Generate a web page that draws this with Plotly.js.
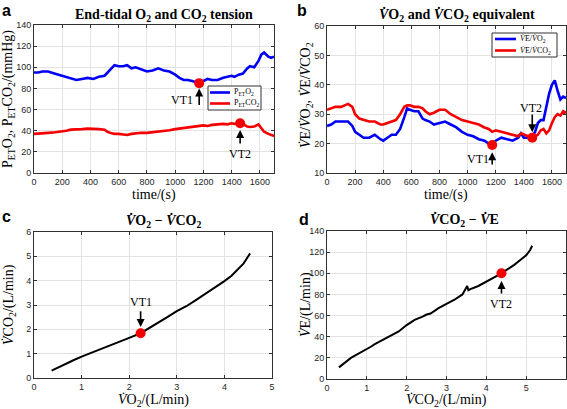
<!DOCTYPE html>
<html><head><meta charset="utf-8">
<script src="https://cdn.plot.ly/plotly-3.0.1.min.js"></script>
<style>html,body{margin:0;padding:0;background:#fff}#chart{width:567px;height:409px}</style>
</head><body><div id="chart"></div>
<script>
// Panel a: end-tidal tensions
const timeA = [0,30,60,100,150,200,230,260,300,340,380,420,460,500,520,550,570,600,630,660,690,720,760,800,840,880,920,960,1000,1030,1060,1090,1120,1150,1170,1200,1230,1260,1300,1340,1370,1400,1420,1450,1480,1510,1530,1560,1590,1610,1630,1660,1680,1700];
const petO2 = [95,95,96,96,94,92,91,90,88,89,90,89,91,92,95,100,102,101,101,102,99,100,98,96,97,99,97,96,93,90,88,88,87,86,85,87,89,88,88,90,91,92,91,93,94,99,101,100,106,112,114,110,109,110];
const petCO2 = [37,37.5,38,38,38.5,39,40,41,41,41.5,42,42,41.5,41,39,37.5,37,37,36.5,36,37,37.5,38,38,38.5,39,40,40.5,41.5,42,42.5,43,44,44.5,45,45,44.5,45.5,46,46.5,46,47,46.5,47,46.5,44,43.5,44,46,42,39,37,36,35];
const vtA = {vt1:[1170,85], vt2:[1460,47]};
const legendA = ['P<sub>ET</sub>O<sub>2</sub>','P<sub>ET</sub>CO<sub>2</sub>'];

// Panel b: ventilatory equivalents
const timeB = [0,30,60,100,150,180,200,230,260,300,340,380,400,430,460,490,520,550,570,590,620,650,680,700,730,760,800,840,880,920,960,1000,1040,1080,1120,1150,1175,1200,1240,1280,1320,1360,1380,1400,1430,1460,1480,1500,1520,1540,1560,1580,1600,1620,1640,1660,1680,1700];
const veVo2 = [26,26.5,27.5,27.5,27.5,26,24,23,22,22,23,21.5,21,22,23,23,25,29,32,31.5,31,31,28.5,28,27.5,26.5,27,27.5,26.5,25.5,24,23,22.5,21.5,21,20,19.5,21,22,21.5,21,22,23.5,22,22,22.5,24,27,28,28,33,37,40,41.5,38,35,36,35.5];
const veVco2 = [31.5,32,32.5,32.5,33.5,32.5,30,28.5,28,27.5,27.5,26.5,26.5,27,27.5,28,30,32.5,33,33,32.5,32.5,32,31,30,30.5,31.5,31.5,30,29,28,27.5,27,26.5,25.5,25,24,24.5,24,23.5,23,22.5,23.5,23,22.5,22,22.5,23,24.5,25,23.5,24.5,27,29,30,29.5,31,30.5];
const vtB = {vt1:[1175,19.5], vt2:[1460,22]};
const D='<i>V̇</i>';
const legendB = [D+'E/'+D+'O<sub>2</sub>', D+'E/'+D+'CO<sub>2</sub>'];

// Panel c: VO2 vs VCO2
const vo2C = [0.37,0.45,0.55,0.7,0.85,1.0,1.2,1.4,1.6,1.8,2.0,2.24,2.4,2.6,2.8,3.0,3.2,3.4,3.6,3.8,4.0,4.15,4.3,4.4,4.45,4.5,4.54];
const vco2C = [0.3,0.38,0.47,0.6,0.75,0.88,1.03,1.17,1.33,1.5,1.65,1.84,2.02,2.25,2.5,2.75,2.95,3.2,3.45,3.7,3.98,4.2,4.5,4.7,4.85,5.0,5.12];
const vtC = [2.24,1.84];

// Panel d: VCO2 vs VE
const vco2D = [0.3,0.4,0.5,0.6,0.7,0.8,0.9,1.0,1.1,1.2,1.4,1.6,1.8,2.0,2.2,2.4,2.5,2.6,2.8,3.0,3.2,3.4,3.48,3.52,3.55,3.6,3.8,4.0,4.2,4.38,4.5,4.7,4.9,5.0,5.1,5.15];
const veD = [11,14,17,20,22,24,26,28,30.5,33,37,41,45,51,56,59,61,62,67,71,75,80,86,88,84,85,88,92,96,100,103,108,114,117,122,126];
const vtD = [4.38,100];

const W=567,H=409;
const px = v=>v/W, py = v=>1-v/H;
const BLUE='rgb(0,0,245)', RED='rgb(245,0,0)';
const SERIF='Liberation Serif, Times New Roman, serif';
const SANS='Liberation Sans, Arial, sans-serif';

function ax(domain, range, dtick, anchor){
  return {domain, range, dtick, anchor, autorange:false, showgrid:true, gridcolor:'#e3e3e3', gridwidth:1,
    zeroline:false, showline:true, linecolor:'#303030', linewidth:1, mirror:'ticks',
    ticks:'inside', ticklen:3, tickcolor:'#303030', tickfont:{family:SANS,size:9,color:'#262626'}};
}

const traces = [
  {x:timeA,y:petO2,xaxis:'x',yaxis:'y',mode:'lines',line:{color:BLUE,width:2.6},name:legendA[0],showlegend:false},
  {x:timeA,y:petCO2,xaxis:'x',yaxis:'y',mode:'lines',line:{color:RED,width:2.6},name:legendA[1],showlegend:false},
  {x:[vtA.vt1[0],vtA.vt2[0]],y:[vtA.vt1[1],vtA.vt2[1]],xaxis:'x',yaxis:'y',mode:'markers',marker:{color:RED,size:10},showlegend:false},
  {x:timeB,y:veVo2,xaxis:'x2',yaxis:'y2',mode:'lines',line:{color:BLUE,width:2.6},name:legendB[0],showlegend:false},
  {x:timeB,y:veVco2,xaxis:'x2',yaxis:'y2',mode:'lines',line:{color:RED,width:2.6},name:legendB[1],showlegend:false},
  {x:[vtB.vt1[0],vtB.vt2[0]],y:[vtB.vt1[1],vtB.vt2[1]],xaxis:'x2',yaxis:'y2',mode:'markers',marker:{color:RED,size:10},showlegend:false},
  {x:vo2C,y:vco2C,xaxis:'x3',yaxis:'y3',mode:'lines',line:{color:'#000',width:2},showlegend:false},
  {x:[vtC[0]],y:[vtC[1]],xaxis:'x3',yaxis:'y3',mode:'markers',marker:{color:RED,size:10},showlegend:false},
  {x:vco2D,y:veD,xaxis:'x4',yaxis:'y4',mode:'lines',line:{color:'#000',width:2},showlegend:false},
  {x:[vtD[0]],y:[vtD[1]],xaxis:'x4',yaxis:'y4',mode:'markers',marker:{color:RED,size:10},showlegend:false}
];

function arrow(xr,yr,x,y,ty){
  return {xref:xr,yref:yr,x:x,y:y,axref:xr,ayref:yr,ax:x,ay:ty,text:'',showarrow:true,arrowhead:2,arrowsize:1,arrowwidth:1.6,arrowcolor:'#000'};
}
function lab(xr,yr,x,y,t){
  return {xref:xr,yref:yr,x:x,y:y,text:t,showarrow:false,font:{family:SERIF,size:12,color:'#000'}};
}
function ptxt(x,y,t,size,rot,extra){
  return Object.assign({xref:'paper',yref:'paper',x:px(x),y:py(y),text:t,showarrow:false,xanchor:'center',yanchor:'middle',
    textangle:rot||0,font:{family:SERIF,size:size,color:'#000'}},extra||{});
}
const letterFont = {family:SANS,size:16,color:'#000'};
const legFont = {family:SERIF,size:8,color:'#000'};

// compact legends (box, line samples, labels) in pixel positions
function legendBox(x0,y0,x1,y1,lineX0,lineX1,rows,labels,colors){
  const shapes=[{type:'rect',xref:'paper',yref:'paper',x0:px(x0),x1:px(x1),y0:py(y1),y1:py(y0),line:{color:'#303030',width:1},fillcolor:'#fff',layer:'above'}];
  const anns=[];
  rows.forEach((ry,i)=>{
    shapes.push({type:'line',xref:'paper',yref:'paper',x0:px(lineX0),x1:px(lineX1),y0:py(ry),y1:py(ry),line:{color:colors[i],width:2.6},layer:'above'});
    anns.push(ptxt(lineX1+2,ry,labels[i],8,0,{xanchor:'left',font:legFont}));
  });
  return {shapes,anns};
}
const legA = legendBox(208,86,261,110,210,230,[92.5,103.5],legendA,[BLUE,RED]);
const legB = legendBox(492,33,557,57,495,516,[39,50.5],legendB,[BLUE,RED]);

const annotations = [
  arrow('x','y',1170,80,63), lab('x','y',1048,69,'VT1'),
  arrow('x','y',1460,40.7,26.5), lab('x','y',1460,18,'VT2'),
  arrow('x2','y2',1175,17.1,12.4), lab('x2','y2',1074,14.8,'VT1'),
  arrow('x2','y2',1460,23.9,30.4), lab('x2','y2',1450,32.2,'VT2'),
  arrow('x3','y3',2.24,2.1,2.8), lab('x3','y3',2.24,3.12,'VT1'),
  arrow('x4','y4',4.38,92.7,79.5), lab('x4','y4',4.38,71,'VT2'),
  // titles
  ptxt(164,15,'<b>End-tidal O<sub>2</sub> and CO<sub>2</sub> tension</b>',14),
  ptxt(457,15,'<b>'+D+'O<sub>2</sub> and '+D+'CO<sub>2</sub> equivalent</b>',14),
  ptxt(163,221,'<b>'+D+'O<sub>2</sub> − '+D+'CO<sub>2</sub></b>',14),
  ptxt(464,220,'<b>'+D+'CO<sub>2</sub> − '+D+'E</b>',14),
  // axis titles
  ptxt(154,195,'time/(s)',14),
  ptxt(446,195,'time/(s)',14),
  ptxt(153,400,D+'O<sub>2</sub>/(L/min)',14),
  ptxt(446,400,D+'CO<sub>2</sub>/(L/min)',14),
  ptxt(9,99,'P<sub>ET</sub>O<sub>2</sub>, P<sub>ET</sub>CO<sub>2</sub>/(mmHg)',14,-90),
  ptxt(306,95,D+'E/'+D+'O<sub>2</sub>, '+D+'E/'+D+'CO<sub>2</sub>',14,-90),
  ptxt(9,305,D+'CO<sub>2</sub>/(L/min)',14,-90),
  ptxt(306,305,D+'E/(L/min)',14,-90),
  // panel letters
  ptxt(0,10,'<b>a</b>',16,0,{xanchor:'left',font:letterFont}),
  ptxt(295,10,'<b>b</b>',16,0,{xanchor:'left',font:letterFont}),
  ptxt(0,217,'<b>c</b>',16,0,{xanchor:'left',font:letterFont}),
  ptxt(297,219,'<b>d</b>',16,0,{xanchor:'left',font:letterFont})
].concat(legA.anns, legB.anns);

const layout = {
  width:W,height:H,margin:{l:0,r:0,t:0,b:0},paper_bgcolor:'#fff',plot_bgcolor:'#fff',showlegend:false,
  xaxis: ax([px(34),px(274)],[0,1700],200,'y'),
  yaxis: ax([py(173),py(25)],[0,140],20,'x'),
  xaxis2: ax([px(327),px(566)],[0,1700],200,'y2'),
  yaxis2: ax([py(173),py(26)],[10,60],10,'x2'),
  xaxis3: ax([px(34),px(272)],[0,5],1,'y3'),
  yaxis3: ax([py(378),py(232)],[0,6],1,'x3'),
  xaxis4: ax([px(327),px(566)],[0,6],1,'y4'),
  yaxis4: ax([py(379),py(231)],[0,140],20,'x4'),
  shapes: legA.shapes.concat(legB.shapes),
  annotations
};
Plotly.newPlot('chart',traces,layout,{staticPlot:true});
</script></body></html>
